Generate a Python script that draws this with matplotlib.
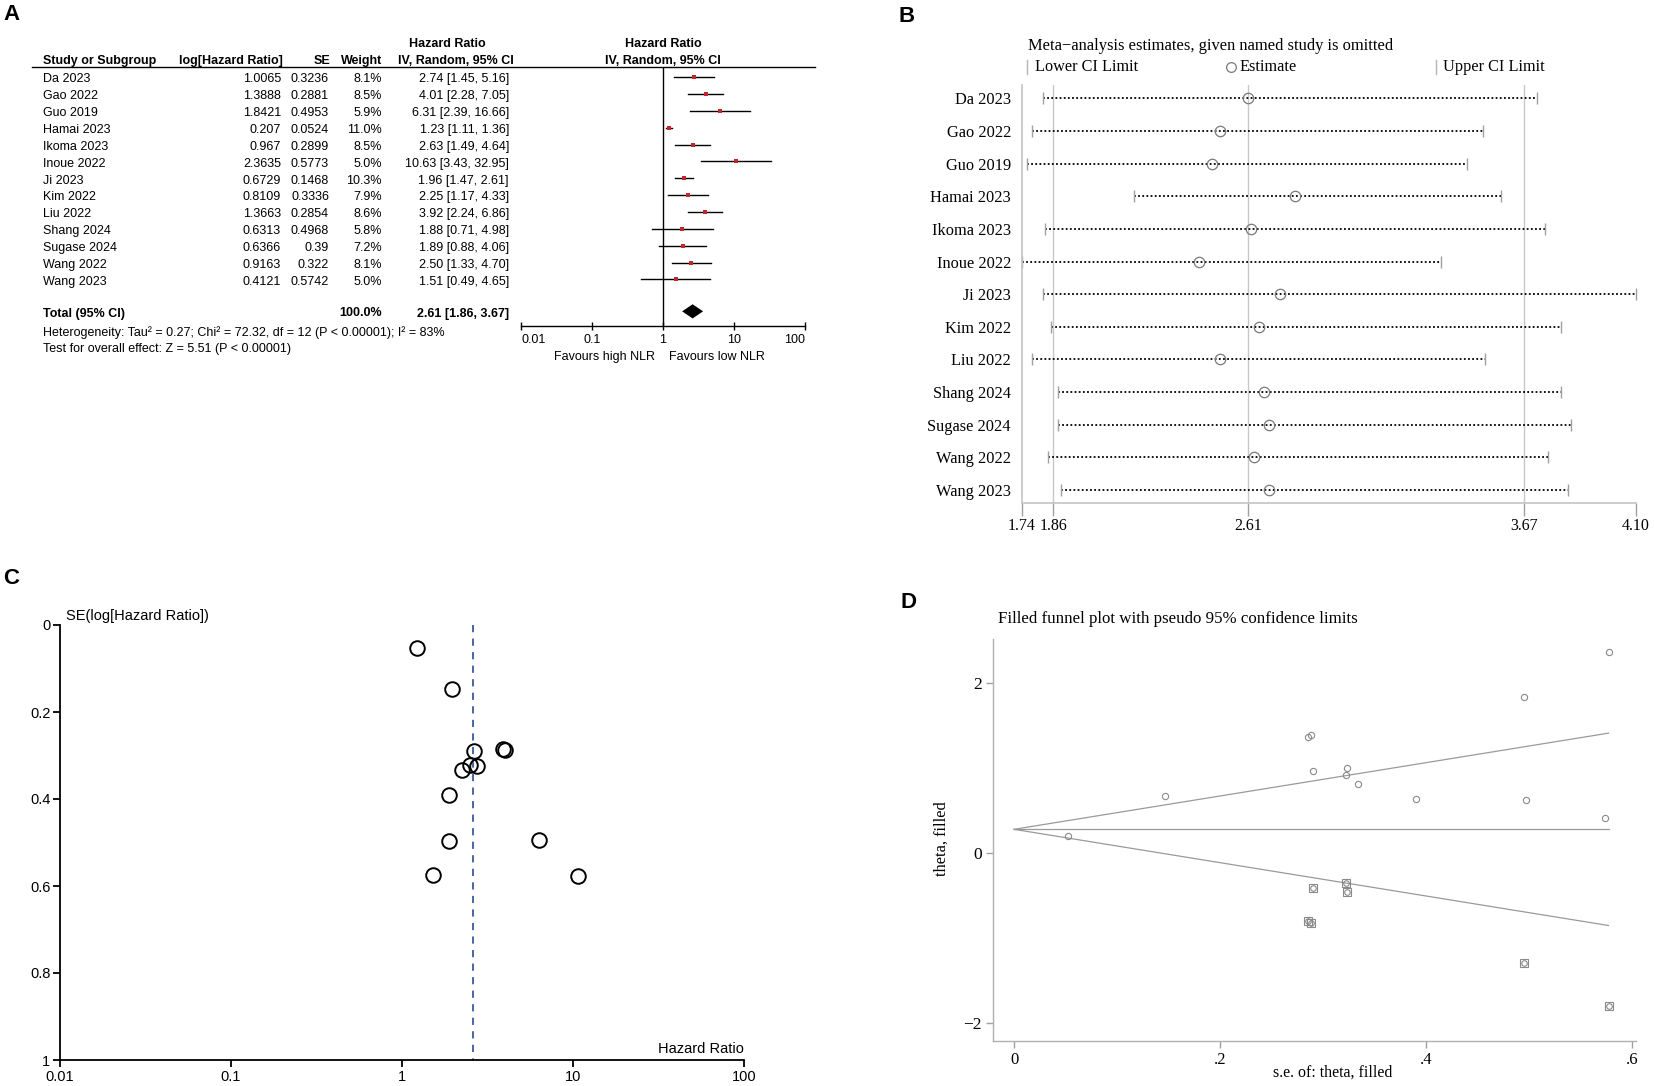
import matplotlib
matplotlib.use('Agg')
import matplotlib.pyplot as plt
from matplotlib.lines import Line2D
import numpy as np

# ---------------- data ----------------
studies = ["Da 2023", "Gao 2022", "Guo 2019", "Hamai 2023", "Ikoma 2023", "Inoue 2022",
           "Ji 2023", "Kim 2022", "Liu 2022", "Shang 2024", "Sugase 2024", "Wang 2022", "Wang 2023"]
log_hr = [1.0065, 1.3888, 1.8421, 0.207, 0.967, 2.3635, 0.6729, 0.8109, 1.3663, 0.6313, 0.6366, 0.9163, 0.4121]
se = [0.3236, 0.2881, 0.4953, 0.0524, 0.2899, 0.5773, 0.1468, 0.3336, 0.2854, 0.4968, 0.39, 0.322, 0.5742]
weight = [8.1, 8.5, 5.9, 11.0, 8.5, 5.0, 10.3, 7.9, 8.6, 5.8, 7.2, 8.1, 5.0]
hr = [2.74, 4.01, 6.31, 1.23, 2.63, 10.63, 1.96, 2.25, 3.92, 1.88, 1.89, 2.50, 1.51]
hr_lo = [1.45, 2.28, 2.39, 1.11, 1.49, 3.43, 1.47, 1.17, 2.24, 0.71, 0.88, 1.33, 0.49]
hr_hi = [5.16, 7.05, 16.66, 1.36, 4.64, 32.95, 2.61, 4.33, 6.86, 4.98, 4.06, 4.70, 4.65]
total_hr, total_lo, total_hi = 2.61, 1.86, 3.67
forest_ticks = [0.01, 0.1, 1, 10, 100]
forest_ticklabels = ["0.01", "0.1", "1", "10", "100"]

# sensitivity (leave-one-out) estimates
omit_est = [2.61, 2.50, 2.47, 2.79, 2.62, 2.42, 2.73, 2.65, 2.50, 2.67, 2.69, 2.63, 2.69]
omit_lo = [1.82, 1.78, 1.76, 2.17, 1.83, 1.74, 1.82, 1.85, 1.78, 1.88, 1.88, 1.84, 1.89]
omit_hi = [3.72, 3.51, 3.45, 3.58, 3.75, 3.35, 4.10, 3.81, 3.52, 3.81, 3.85, 3.76, 3.84]
sens_ticks = [1.74, 1.86, 2.61, 3.67, 4.10]
sens_ticklabels = ["1.74", "1.86", "2.61", "3.67", "4.10"]

# funnel (RevMan)
funnel_ticks_y = [0, 0.2, 0.4, 0.6, 0.8, 1]
funnel_ticklabels_y = ["0", "0.2", "0.4", "0.6", "0.8", "1"]

# filled funnel (trim and fill)
filled_se = [0.3236, 0.2881, 0.4953, 0.2899, 0.5773, 0.2854, 0.322]
filled_theta = [-0.45, -0.82, -1.29, -0.41, -1.80, -0.80, -0.35]
pooled_theta = 0.282
funnel_se_max = 0.5773
funnel_upper_end = 1.413
funnel_lower_end = -0.849

# ---------------- figure ----------------
W, H = 1654, 1086
fig = plt.figure(figsize=(W / 100, H / 100), dpi=100)
SANS = ['Liberation Sans', 'DejaVu Sans']
SERIF = ['Liberation Serif', 'DejaVu Serif']
plt.rcParams['font.family'] = SANS


def fx(x):
    return x / W


def fy(y):
    return 1 - y / H


def add_ax(x0, y0, x1, y1):
    return fig.add_axes([fx(x0), fy(y1), (x1 - x0) / W, (y1 - y0) / H])


def T(x, y, s, **kw):
    kw.setdefault('fontsize', 9)
    kw.setdefault('va', 'center')
    return fig.text(fx(x), fy(y), s, **kw)


def fline(xs, ys, **kw):
    fig.add_artist(Line2D([fx(v) for v in xs], [fy(v) for v in ys], transform=fig.transFigure, **kw))


# panel letters
for lab, (x, y) in zip("ABCD", [(11, 15), (907, 16), (11, 579), (908, 603)]):
    T(x, y, lab, fontsize=16, weight='bold', ha='center', family=SANS)

# ---------------- Panel A: forest plot ----------------
T(447, 44, "Hazard Ratio", ha='center', weight='bold')
T(663, 44, "Hazard Ratio", ha='center', weight='bold')
hy = 61
T(43, hy, "Study or Subgroup", ha='left', weight='bold')
T(283, hy, "log[Hazard Ratio]", ha='right', weight='bold')
T(330, hy, "SE", ha='right', weight='bold')
T(382, hy, "Weight", ha='right', weight='bold')
T(456, hy, "IV, Random, 95% CI", ha='center', weight='bold')
T(663, hy, "IV, Random, 95% CI", ha='center', weight='bold')
fline([32, 815], [66.5, 66.5], color='black', lw=1)

row_gap = 16.87
for i, name in enumerate(studies):
    yc = 79.3 + i * row_gap
    T(43, yc, name, ha='left')
    T(281, yc, str(log_hr[i]), ha='right')
    T(329, yc, str(se[i]), ha='right')
    T(382, yc, f"{weight[i]:.1f}%", ha='right')
    T(509, yc, f"{hr[i]:.2f} [{hr_lo[i]:.2f}, {hr_hi[i]:.2f}]", ha='right')

T(43, 313.5, "Total (95% CI)", ha='left', weight='bold')
T(382, 313.5, "100.0%", ha='right', weight='bold')
T(509, 313.5, f"{total_hr:.2f} [{total_lo:.2f}, {total_hi:.2f}]", ha='right', weight='bold')
T(43, 332.5, "Heterogeneity: Tau\u00b2 = 0.27; Chi\u00b2 = 72.32, df = 12 (P < 0.00001); I\u00b2 = 83%", ha='left')
T(43, 349, "Test for overall effect: Z = 5.51 (P < 0.00001)", ha='left')
T(655, 356.5, "Favours high NLR", ha='right')
T(669, 356.5, "Favours low NLR", ha='left')

axA = add_ax(521, 66.5, 805, 326)
axA.set_xscale('log')
axA.set_xlim(0.01, 100)
axA.set_ylim(14.77, -0.64)
for s in ['top', 'left', 'right']:
    axA.spines[s].set_visible(False)
axA.spines['bottom'].set_linewidth(1)
axA.axvline(1, color='black', lw=1)
axA.set_xticks(forest_ticks)
axA.set_xticklabels(forest_ticklabels, fontsize=9)
axA.xaxis.set_minor_locator(matplotlib.ticker.NullLocator())
axA.tick_params(axis='x', direction='inout', length=6, width=1, pad=3)
tl = axA.get_xticklabels()
tl[0].set_ha('left')
tl[-1].set_ha('right')
axA.set_yticks([])
axA.patch.set_alpha(0)
for i in range(len(studies)):
    axA.plot([hr_lo[i], hr_hi[i]], [i, i], color='black', lw=1)
    axA.plot(hr[i], i, marker='s', color='#C0272D', ms=np.sqrt(weight[i]) * 1.05, mew=0)
tr = 13.9
axA.fill([total_lo, total_hr, total_hi, total_hr], [tr, tr - 0.42, tr, tr + 0.42], color='black', lw=0)

# ---------------- Panel B: sensitivity analysis ----------------
T(1028, 46, "Meta\u2212analysis estimates, given named study is omitted", ha='left',
  family=SERIF, fontsize=11.9)
ly = 67
fline([1027, 1027], [ly - 7, ly + 7], color='#b5b5b5', lw=1)
T(1035, ly, "Lower CI Limit", ha='left', family=SERIF, fontsize=11.7)
fig.add_artist(Line2D([fx(1231)], [fy(ly)], marker='o', mfc='none', mec='#7a7a7a', ms=7, mew=0.9,
                      transform=fig.transFigure))
T(1239, ly, "Estimate", ha='left', family=SERIF, fontsize=11.7)
fline([1436, 1436], [ly - 7, ly + 7], color='#b5b5b5', lw=1)
T(1443, ly, "Upper CI Limit", ha='left', family=SERIF, fontsize=11.7)

axB = add_ax(1022, 85, 1636, 503)
axB.set_xlim(1.74, 4.10)
axB.set_ylim(12.40, -0.41)
for s in ['top', 'right']:
    axB.spines[s].set_visible(False)
for s in ['left', 'bottom']:
    axB.spines[s].set_color('#c4c4c4')
    axB.spines[s].set_linewidth(1.2)
for v in [total_lo, total_hr, total_hi]:
    axB.axvline(v, color='#c8c8c8', lw=1, zorder=0)
axB.set_xticks(sens_ticks)
axB.set_xticklabels(sens_ticklabels, fontsize=11.5, family=SERIF)
axB.tick_params(axis='x', direction='out', length=9, color='#a0a0a0', width=1, pad=2)
axB.set_yticks(range(len(studies)))
axB.set_yticklabels(studies, fontsize=11.8, family=SERIF)
axB.tick_params(axis='y', length=0, pad=8)
axB.patch.set_alpha(0)
for i in range(len(studies)):
    axB.plot([omit_lo[i], omit_hi[i]], [i, i], color='black', lw=1.3, ls=(0, (1, 1.3)), clip_on=False)
    axB.plot([omit_lo[i], omit_hi[i]], [i, i], ls='none', marker='|', ms=9, mew=1, color='#a0a0a0',
             clip_on=False)
    axB.plot(omit_est[i], i, marker='o', mfc='none', mec='#7a7a7a', ms=7.5, mew=0.9, clip_on=False)

# ---------------- Panel C: funnel plot ----------------
axC = add_ax(60, 625, 744, 1060)
axC.set_xscale('log')
axC.set_xlim(0.01, 100)
axC.set_ylim(1, 0)
for s in ['top', 'right']:
    axC.spines[s].set_visible(False)
for s in ['left', 'bottom']:
    axC.spines[s].set_linewidth(1.3)
axC.set_xticks(forest_ticks)
axC.set_xticklabels(forest_ticklabels, fontsize=10.5)
axC.xaxis.set_minor_locator(matplotlib.ticker.NullLocator())
axC.set_yticks(funnel_ticks_y)
axC.set_yticklabels(funnel_ticklabels_y, fontsize=10.5)
axC.tick_params(direction='out', length=5, width=1.3, pad=2)
axC.plot([total_hr, total_hr], [0, 1], color='#3C5A99', lw=1.3, ls=(0, (4, 3.5)))
axC.plot(hr, se, ls='none', marker='o', mfc='none', mec='black', ms=10.5, mew=1.4, clip_on=False)
T(66, 616, "SE(log[Hazard Ratio])", ha='left', fontsize=10.5)
T(744, 1049, "Hazard Ratio", ha='right', fontsize=10.5)

# ---------------- Panel D: filled funnel plot ----------------
T(998, 619, "Filled funnel plot with pseudo 95% confidence limits", ha='left', family=SERIF, fontsize=12.2)
axD = add_ax(993, 639, 1636, 1041)
axD.set_xlim(-0.0204, 0.604)
axD.set_ylim(-2.207, 2.52)
for s in ['top', 'right']:
    axD.spines[s].set_visible(False)
for s in ['left', 'bottom']:
    axD.spines[s].set_color('#b0b0b0')
    axD.spines[s].set_linewidth(1)
axD.set_xticks([0, 0.2, 0.4, 0.6])
axD.set_xticklabels(["0", ".2", ".4", ".6"], fontsize=12, family=SERIF)
axD.set_yticks([-2, 0, 2])
axD.set_yticklabels(["\u22122", "0", "2"], fontsize=12.5, family=SERIF)
axD.tick_params(direction='out', length=5, color='#a0a0a0', width=1, pad=3)
axD.patch.set_alpha(0)
lc = '#9a9a9a'
axD.plot([0, funnel_se_max], [pooled_theta, funnel_upper_end], color=lc, lw=0.9)
axD.plot([0, funnel_se_max], [pooled_theta, funnel_lower_end], color=lc, lw=0.9)
axD.plot([0, funnel_se_max], [pooled_theta, pooled_theta], color=lc, lw=0.9)
axD.plot(se, log_hr, ls='none', marker='o', mfc='none', mec='#8a8a8a', ms=4.5, mew=0.8, clip_on=False)
axD.plot(filled_se, filled_theta, ls='none', marker='s', mfc='none', mec='#8a8a8a', ms=6, mew=0.8)
axD.plot(filled_se, filled_theta, ls='none', marker='o', mfc='none', mec='#8a8a8a', ms=4, mew=0.8)
T(942, 839, "theta, filled", ha='center', rotation=90, family=SERIF, fontsize=11.7)
T(1333, 1073, "s.e. of: theta, filled", ha='center', family=SERIF, fontsize=11.5)

fig.savefig("out.png", dpi=100)
